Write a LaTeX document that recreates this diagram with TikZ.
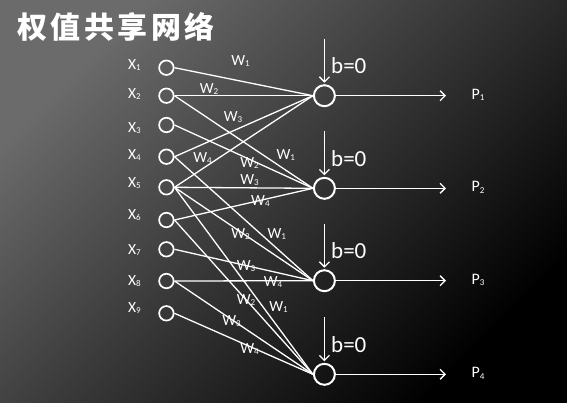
\documentclass[tikz,border=0pt]{standalone}
\usepackage{fontspec}
\setmainfont{Carlito}
\newfontfamily\cjk{Noto Sans CJK SC}
\usetikzlibrary{arrows.meta}
\newcommand{\mysubs}[1]{\raisebox{-1.2pt}{\fontsize{9}{9}\selectfont #1}}
\begin{document}
\begin{tikzpicture}[x=1pt,y=-1pt,
  inp/.style={circle,draw=white,line width=1.7pt,minimum size=14.5pt,inner sep=0pt},
  outp/.style={circle,draw=white,line width=2pt,minimum size=21pt,inner sep=0pt},
  conn/.style={draw=white,line width=1.3pt},
  arr/.style={draw=white,line width=1.3pt,-{Straight Barb[length=5pt,width=10pt,line width=1.3pt]}},
  wlab/.style={text=white,font=\fontsize{15.5}{15.5}\selectfont,inner sep=0pt},
  xlab/.style={text=white,font=\fontsize{15.5}{15.5}\selectfont,inner sep=0pt},
  plab/.style={text=white,font=\fontsize{16}{16}\selectfont,inner sep=0pt},
  blab/.style={text=white,font=\fontsize{23}{23}\selectfont,inner sep=0pt,anchor=west},
  ttl/.style={text=white,font=\cjk\bfseries\fontsize{30}{30}\selectfont,inner sep=0pt,anchor=west}
]
\shade[top color=black!58,middle color=black!84,bottom color=black,shading angle=45] (0,0) rectangle (567,402);
\useasboundingbox (0,0) rectangle (567,402);

\node[ttl] (title) at (17,27) {权\kern3.5pt 值\kern3.5pt 共\kern3.5pt 享\kern3.5pt 网\kern3.5pt 络};

% input nodes
\foreach \i/\y/\ly in {1/67.7/65,2/95.7/94.3,3/125/128,4/156.7/155,5/187.3/182.7,6/220/215,7/249.3/250,8/281/281,9/313.3/308}{
  \node[inp] (x\i) at (166.4,\y) {};
  \node[xlab] (xl\i) at (134.5,\ly) {X\mysubs{\i}};
}

% output nodes
\foreach \o/\y in {1/95.7,2/188.3,3/280.7,4/374.3}{
  \node[outp] (o\o) at (324.4,\y) {};
  \coordinate (bt\o) at (324.4,\y-57);
  \coordinate (pe\o) at (446,\y);
  \node[plab] (p\o) at (478,\y-1) {P\mysubs{\o}};
  \node[blab] (b\o) at (331,\y-30) {b=0};
  \draw[arr,shorten >=1.5pt] (bt\o) -- (o\o.north);
  \draw[arr] (o\o.east) -- (pe\o);
}

% connections (2x2 kernel over 3x3 input)
\foreach \o/\a/\b/\c/\d in {1/1/2/4/5,2/2/3/5/6,3/4/5/7/8,4/5/6/8/9}{
  \foreach \i in {\a,\b,\c,\d}{
    \draw[conn] (x\i.east) -- (o\o.west);
  }
}

% weight labels
\node[wlab] (w11) at (240.5,61) {W\mysubs{1}};
\node[wlab] (w12) at (209,89) {W\mysubs{2}};
\node[wlab] (w13) at (233,117) {W\mysubs{3}};
\node[wlab] (w14) at (202.5,158) {W\mysubs{4}};
\node[wlab] (w21) at (285.7,155) {W\mysubs{1}};
\node[wlab] (w22) at (249.5,162.7) {W\mysubs{2}};
\node[wlab] (w23) at (249.5,180) {W\mysubs{3}};
\node[wlab] (w24) at (260.4,201) {W\mysubs{4}};
\node[wlab] (w31) at (276.7,234) {W\mysubs{1}};
\node[wlab] (w32) at (240.5,234) {W\mysubs{2}};
\node[wlab] (w33) at (246,265.7) {W\mysubs{3}};
\node[wlab] (w34) at (273,281.7) {W\mysubs{4}};
\node[wlab] (w41) at (278.5,307) {W\mysubs{1}};
\node[wlab] (w42) at (246,300) {W\mysubs{2}};
\node[wlab] (w43) at (231.5,320.7) {W\mysubs{3}};
\node[wlab] (w44) at (249.5,349.3) {W\mysubs{4}};
\end{tikzpicture}
\end{document}
